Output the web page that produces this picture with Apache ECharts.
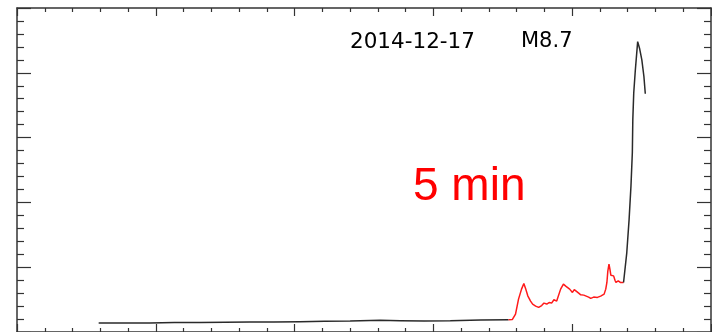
<!DOCTYPE html>
<html>
<head>
<meta charset="utf-8">
<script src="https://cdn.jsdelivr.net/npm/echarts@6/dist/echarts.min.js"></script>
<style>html,body{margin:0;padding:0;background:#fff}#c{width:712px;height:332px}</style>
</head>
<body>
<div id="c"></div>
<script>
// time in minutes (arbitrary origin), flux in arbitrary units
const preTime  = [35.3, 46, 57.4, 68, 79.1, 90, 100.7, 111, 122.4, 133, 144.0, 157.0, 165.7, 176, 187.3, 200.4, 212.5];
const preFlux  = [0.28, 0.28, 0.28, 0.29, 0.29, 0.30, 0.31, 0.31, 0.32, 0.33, 0.34, 0.36, 0.35, 0.34, 0.35, 0.37, 0.38];
const redTime  = [212.5, 214.1, 215.5, 216.8, 218.1, 219.1, 219.8, 220.8, 222.0, 222.9, 224.2, 225.5, 226.8, 227.8, 229.0, 230.0, 231.1, 232.1, 233.3, 234.1, 235.0, 236.2, 237.2, 237.9, 238.9, 240.1, 240.9, 241.5, 242.8, 243.7, 245.0, 245.8, 247.1, 248.0, 249.3, 250.9, 252.3, 253.8, 254.5, 255.0, 255.4, 255.9, 256.3, 256.7, 257.9, 258.5, 258.9, 259.9, 260.8, 262.2];
const redFlux  = [0.378, 0.385, 0.554, 1.015, 1.323, 1.498, 1.354, 1.117, 0.954, 0.862, 0.800, 0.760, 0.815, 0.892, 0.862, 0.908, 0.892, 0.994, 0.954, 0.969, 1.323, 1.477, 1.415, 1.425, 1.323, 1.222, 1.308, 1.271, 1.200, 1.148, 1.138, 1.117, 1.077, 1.037, 1.077, 1.068, 1.108, 1.169, 1.323, 1.529, 1.877, 2.092, 1.938, 1.754, 1.732, 1.600, 1.529, 1.578, 1.529, 1.529];
const postTime = [262.2, 262.8, 263.6, 264.6, 265.4, 266.0, 266.2, 266.6, 267.3, 268.3, 268.7, 269.1, 270.1, 271.0, 271.6];
const postFlux = [1.529, 1.477, 2.452, 3.477, 4.502, 5.538, 6.554, 7.375, 8.092, 8.963, 9.015, 8.760, 8.400, 7.886, 7.354];
const xMin = 0, xMax = 300, xStep = 60;
const yMin = 0, yMax = 10, yStep = 2;
const dateLabel = '2014-12-17';
const classLabel = 'M8.7';
const cadenceLabel = '5 min';

const zip = (a, b) => a.map((v, i) => [v, b[i]]);
const axisColor = '#333';
function xAx(pos) {
  return {
    type: 'value', position: pos, min: xMin, max: xMax, interval: xStep,
    axisLine: { show: true, onZero: false, lineStyle: { color: axisColor, width: 1.5 } },
    axisTick: { show: true, inside: true, length: 8, lineStyle: { color: axisColor, width: 1.2 } },
    minorTick: { show: true, splitNumber: 5, length: 4, lineStyle: { color: axisColor, width: 1.2 } },
    axisLabel: { show: false }, splitLine: { show: false }, minorSplitLine: { show: false }
  };
}
function yAx(pos) {
  return {
    type: 'value', position: pos, min: yMin, max: yMax, interval: yStep,
    axisLine: { show: true, onZero: false, lineStyle: { color: axisColor, width: 1.5 } },
    axisTick: { show: true, inside: true, length: 14, lineStyle: { color: axisColor, width: 1.2 } },
    minorTick: { show: true, splitNumber: 5, length: 7, lineStyle: { color: axisColor, width: 1.2 } },
    axisLabel: { show: false }, splitLine: { show: false }, minorSplitLine: { show: false }
  };
}
const chart = echarts.init(document.getElementById('c'), null, { renderer: 'canvas' });
const lineCommon = { type: 'line', showSymbol: false, symbol: 'none', animation: false, xAxisIndex: 0, yAxisIndex: 0 };
chart.setOption({
  animation: false,
  backgroundColor: '#fff',
  grid: { left: 17, top: 8, width: 694, height: 326, containLabel: false },
  xAxis: [xAx('bottom'), xAx('top')],
  yAxis: [yAx('left'), yAx('right')],
  series: [
    Object.assign({}, lineCommon, { name: 'pre', data: zip(preTime, preFlux), lineStyle: { color: '#2a2a2a', width: 1.5 } }),
    Object.assign({}, lineCommon, { name: 'red', data: zip(redTime, redFlux), lineStyle: { color: '#ff1a1a', width: 1.5 } }),
    Object.assign({}, lineCommon, { name: 'post', data: zip(postTime, postFlux), lineStyle: { color: '#2a2a2a', width: 1.5 } })
  ],
  graphic: [
    { type: 'text', left: 350, top: 31, style: { text: dateLabel, fontFamily: 'DejaVu Sans', fontSize: 21.5, fill: '#000' } },
    { type: 'text', left: 521, top: 31, style: { text: classLabel, fontFamily: 'DejaVu Sans', fontSize: 21, fill: '#000' } },
    { type: 'text', left: 413, top: 164, style: { text: cadenceLabel, fontFamily: 'Liberation Sans', fontSize: 46, fill: '#ff0000' } }
  ]
});
</script>
</body>
</html>
